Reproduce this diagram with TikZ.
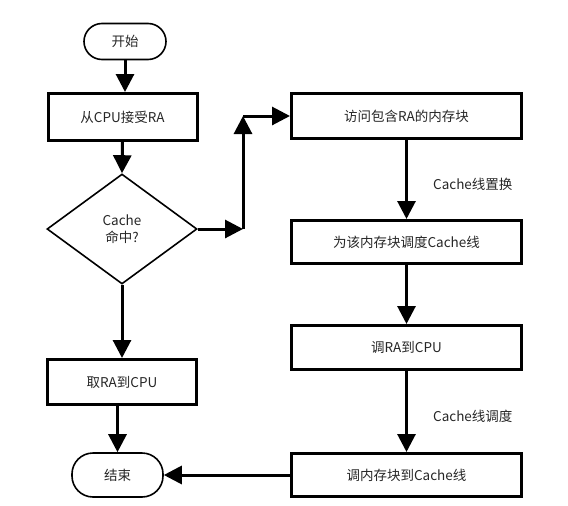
\documentclass[tikz,border=0pt]{standalone}
\usepackage{fontspec}
\setmainfont{Noto Sans CJK SC}
\usetikzlibrary{arrows.meta,shapes.geometric}
\tikzset{
  proc/.style={draw, line width=3pt, rectangle, inner sep=0pt, align=center},
  term/.style={draw, line width=1.6pt, rectangle, rounded corners=18pt, inner sep=0pt},
  dec/.style={draw, line width=1.6pt, diamond, inner sep=0pt, align=center, aspect=1.36},
  arr/.style={line width=3pt, -{Triangle[length=18pt,width=18pt]}},
  lbl/.style={anchor=west, inner sep=0pt},
  every node/.style={font=\fontsize{13.5}{17}\selectfont, text=black!85}
}
\begin{document}
\begin{tikzpicture}[x=1pt,y=-1pt]
\useasboundingbox (0,0) rectangle (568,506);
\node[term, minimum width=82pt, minimum height=36pt] (start) at (125,41.5) {开始};
\node[proc, minimum width=149pt, minimum height=47pt] (recv) at (122.5,117) {从CPU接受RA};
\node[dec, minimum width=150pt, minimum height=110pt] (dia) at (122,229) {Cache\\命中?};
\node[proc, minimum width=149pt, minimum height=45pt] (take) at (122,382) {取RA到CPU};
\node[term, minimum width=91pt, minimum height=44pt, rounded corners=21pt] (end) at (117.5,475) {结束};
\node[proc, minimum width=230pt, minimum height=45pt] (mem) at (406.5,116) {访问包含RA的内存块};
\node[proc, minimum width=230pt, minimum height=43pt] (sched) at (406.5,242) {为该内存块调度Cache线};
\node[proc, minimum width=230pt, minimum height=44pt] (tocpu) at (406.5,347.5) {调RA到CPU};
\node[proc, minimum width=230pt, minimum height=43pt] (tocache) at (406.5,475) {调内存块到Cache线};
\coordinate (c1) at (243,229);
\coordinate (c2) at (243,116);
\draw[arr] (start.south) -- (start.south |- recv.north);
\draw[arr] (recv.south) -- (dia.north);
\draw[arr] (dia.south) -- (take.north);
\draw[arr] (end.north |- take.south) -- (end.north);
\draw[arr] (dia.east) -- (c1);
\draw[arr] (c1) -- (c2);
\draw[arr] (c2) -- (mem.west);
\draw[arr] (mem.south) -- (sched.north);
\draw[arr] (sched.south) -- (tocpu.north);
\draw[arr] (tocpu.south) -- (tocache.north);
\draw[arr] (tocache.west) -- (end.east);
\node[lbl] (l1) at (433,184) {Cache线置换};
\node[lbl] (l2) at (433,416) {Cache线调度};
\end{tikzpicture}
\end{document}
